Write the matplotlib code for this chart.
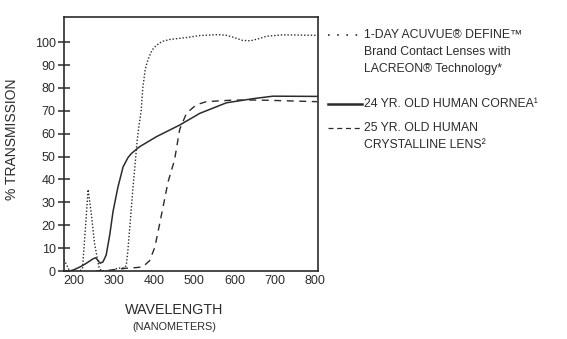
import matplotlib
matplotlib.use("Agg")
import matplotlib.pyplot as plt
from matplotlib.lines import Line2D

# wavelength (nm) / % transmission
acuvue_x = [176, 183, 190, 215, 222, 229, 236, 244, 252, 263, 269, 290, 310, 327,
            331, 335, 341, 347, 353, 358, 363, 368, 372, 378, 385, 395, 405, 420,
            440, 480, 514, 558, 580, 600, 620, 640, 660, 680, 720, 806]
acuvue_y = [5, 2.5, 0, 0, 1, 18, 35.6, 25, 12, 1.7, 0, 0.2, 1.2, 1.5,
            2.5, 9, 22, 35, 47, 57, 64, 70, 80, 88, 92.5, 96.5, 98.5, 100.3,
            101.2, 102, 102.9, 103.3, 103, 102, 100.8, 100.6, 101.5, 102.6, 103.2, 103]

cornea_x = [190, 200, 215, 231, 248, 255, 261, 266, 273, 281, 290, 298, 310, 323,
            335, 344, 364, 406, 464, 514, 580, 646, 696, 806]
cornea_y = [0, 0.5, 1.7, 3.3, 5.3, 5.8, 4.5, 3.4, 4, 7, 16, 26, 36.5, 45.5,
            49.5, 51.4, 54.3, 58.7, 63.8, 68.9, 73.5, 75.3, 76.4, 76.3]

lens_x = [256, 281, 310, 330, 356, 372, 389, 402, 414, 427, 435, 451, 464, 481,
          505, 530, 597, 663, 806]
lens_y = [0, 0.2, 0.7, 1.2, 1.5, 1.8, 4.5, 10.4, 20.6, 32, 39, 48.5, 62, 69,
          72.6, 74, 74.7, 74.7, 74]

x_ticks = [200, 300, 400, 500, 600, 700, 800]
y_ticks = [0, 10, 20, 30, 40, 50, 60, 70, 80, 90, 100]

legend_lines = [
    ["1-DAY ACUVUE® DEFINE™", "Brand Contact Lenses with", "LACREON® Technology*"],
    ["24 YR. OLD HUMAN CORNEA¹"],
    ["25 YR. OLD HUMAN", "CRYSTALLINE LENS²"],
]

ink = "#2b2b2b"
plt.rcParams["font.family"] = ["Liberation Sans", "DejaVu Sans"]

W, H = 567, 339
fig = plt.figure(figsize=(W / 100, H / 100), dpi=100)
ax = fig.add_axes([64 / W, 1 - 271 / H, 254 / W, 254 / H])

ax.plot(acuvue_x, acuvue_y, color=ink, lw=1.0, linestyle=(0, (1, 1.4)))
ax.plot(cornea_x, cornea_y, color=ink, lw=1.1, linestyle="-")
ax.plot(lens_x, lens_y, color=ink, lw=1.0, linestyle=(0, (5, 4)))

ax.set_xlim(176, 808)
ax.set_ylim(0, 111)
ax.set_xticks(x_ticks)
ax.set_yticks(y_ticks)
ax.tick_params(axis="x", length=0, pad=3, labelsize=9, labelcolor=ink)
ax.tick_params(axis="y", direction="inout", length=8, width=1.1, color=ink,
               pad=2, labelsize=9, labelcolor=ink)
for s in ax.spines.values():
    s.set_linewidth(1.2)
    s.set_color(ink)

fig.text(12 / W, 1 - 139 / H, "% TRANSMISSION", rotation=90, ha="center",
         va="center", fontsize=10, color=ink)
fig.text(174 / W, 1 - 310 / H, "WAVELENGTH", ha="center", va="center",
         fontsize=10.3, color=ink)
fig.text(174 / W, 1 - 327 / H, "(NANOMETERS)", ha="center", va="center",
         fontsize=7.8, color=ink)

# legend drawn by hand, right of the axes
handle_styles = [(0, (1, 4.5)), "-", (0, (4, 3))]
handle_widths = [1.2, 1.8, 0.9]
handle_y = [35, 104, 128]
for lines, style, lw, y0 in zip(legend_lines, handle_styles, handle_widths, handle_y):
    fig.add_artist(Line2D([328 / W, 362 / W], [1 - y0 / H, 1 - y0 / H],
                          color=ink, lw=lw, linestyle=style))
    for i, txt in enumerate(lines):
        fig.text(364 / W, 1 - (y0 + 17 * i) / H, txt, ha="left", va="center",
                 fontsize=8.8, color=ink)

fig.savefig("out.png", dpi=100)
